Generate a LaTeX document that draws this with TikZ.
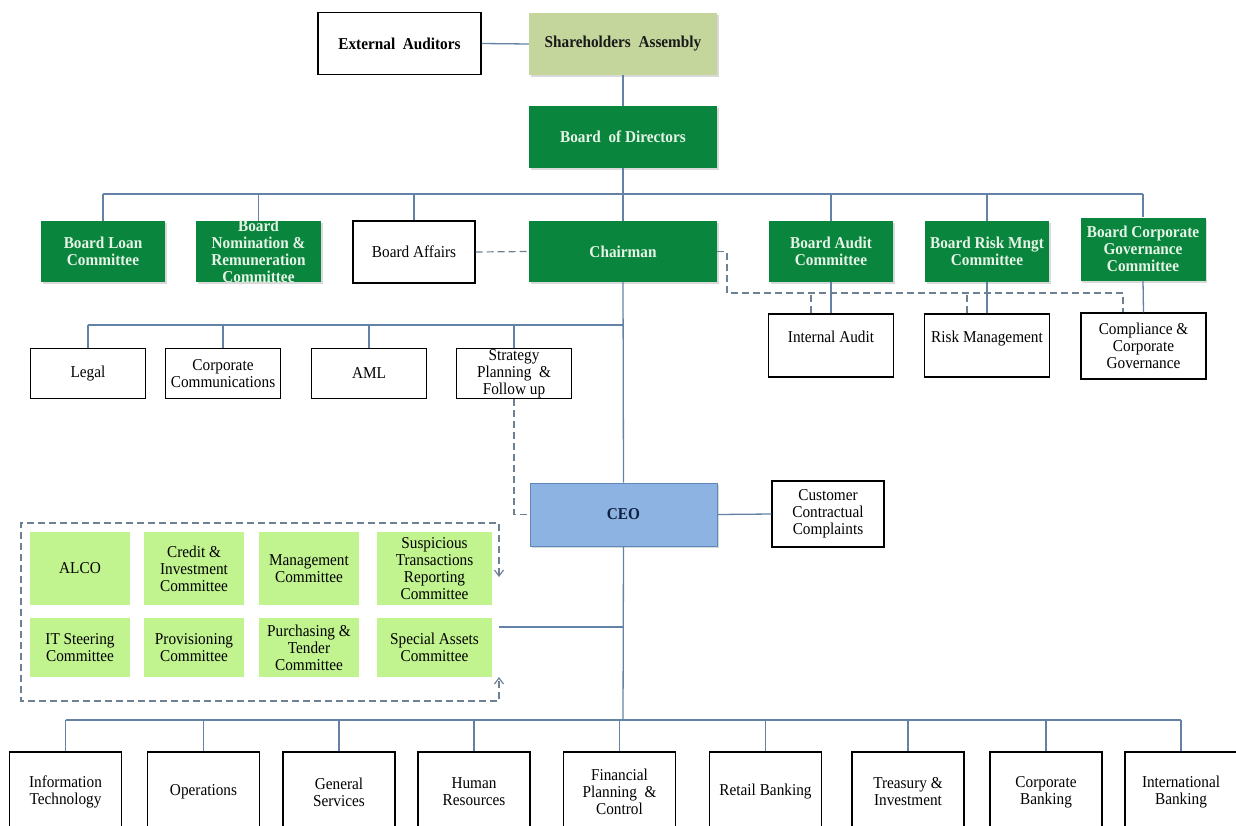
\documentclass[tikz,border=0pt]{standalone}
\usepackage{fontspec}
\setmainfont[FakeStretch=0.92]{Liberation Serif}
\usetikzlibrary{arrows.meta,shadows}

\definecolor{boardgreen}{RGB}{10,133,62}
\definecolor{boardtext}{RGB}{230,244,230}
\definecolor{sharefill}{RGB}{196,214,155}
\definecolor{cmtefill}{RGB}{193,243,143}
\definecolor{ceofill}{RGB}{141,179,226}
\definecolor{ceoline}{RGB}{95,135,185}
\definecolor{ceotext}{RGB}{16,32,64}
\definecolor{linkcol}{RGB}{100,130,165}
\definecolor{dashcol}{RGB}{110,128,148}

\newcommand\orgfont{\fontsize{16.6}{17}\selectfont}

\begin{document}
\begin{tikzpicture}[x=1pt, y=-1pt, >={Straight Barb[length=6pt,width=9pt]}]
\tikzset{
  unit/.style={
    rectangle,
    draw=black,
    line width=1.3pt,
    fill=white,
    align=center,
    inner sep=1pt,
    font=\orgfont
  },
  board/.style={
    rectangle,
    fill=boardgreen,
    text=boardtext,
    align=center,
    inner sep=1pt,
    font=\orgfont\bfseries,
    drop shadow={opacity=.3, shadow xshift=1.5pt, shadow yshift=-2pt}
  },
  cmte/.style={
    rectangle,
    fill=cmtefill,
    align=center,
    inner sep=1pt,
    font=\orgfont
  },
  conn/.style={draw=linkcol, line width=1.3pt},
  dashconn/.style={draw=dashcol, line width=1.2pt, dash pattern=on 7pt off 4pt}
}

\useasboundingbox (0,0) rectangle (1236,825);
\clip (0,0) rectangle (1236,825);

% top of the chart
\node [unit, font=\orgfont\bfseries, minimum width=163pt, minimum height=62pt] (extaud) at (399.5,43.5) {External~ Auditors};
\node [board, fill=sharefill, text=black!90, minimum width=188pt, minimum height=62pt] (share) at (623,44) {Shareholders~ Assembly};
\node [board, minimum width=188pt, minimum height=62pt] (bod) at (623,137) {Board~ of Directors};

% board row
\foreach \n/\x/\txt in {loan/103/{Board Loan\\Committee},
                        audit/831/{Board Audit\\Committee},
                        risk/987/{Board Risk Mngt\\Committee}}
  \node [board, minimum width=124pt, minimum height=61pt] (\n) at (\x,251.5) {\txt};
\node [board, minimum width=125pt, minimum height=61pt] (nomin) at (258.5,251.5) {};
\node [align=center, inner sep=0pt, text=boardtext, font=\orgfont\bfseries] (nomin-txt) at (nomin.center) {Board\\Nomination \&\\Remuneration\\Committee};
\node [board, minimum width=125pt, minimum height=63pt] (cgov) at (1143,249) {Board Corporate\\Governance\\Committee};
\node [unit, minimum width=122pt, minimum height=62pt] (affairs) at (414,252) {Board Affairs};
\node [board, minimum width=188pt, minimum height=61pt] (chair) at (623,251.5) {Chairman};

% units under the board committees
\node [unit, minimum width=125pt, minimum height=63pt] (ia) at (831,345.5) {Internal Audit\\~};
\node [unit, minimum width=125pt, minimum height=63pt] (rm) at (987,345.5) {Risk Management\\~};
\node [unit, minimum width=125pt, minimum height=66pt] (cmpl) at (1143.5,346) {Compliance \&\\Corporate\\Governance};

% units under the chairman
\foreach \n/\x/\txt in {legal/88/Legal,
                        comms/223/{Corporate\\Communications},
                        aml/369/AML,
                        strat/514/{Strategy\\Planning~ \&\\Follow up}}
  \node [unit, minimum width=115pt, minimum height=50pt] (\n) at (\x,373.5) {\txt};

% CEO
\node [board, fill=ceofill, draw=ceoline, line width=1pt, text=ceotext, minimum width=187pt, minimum height=63pt] (ceo) at (623.5,514.5) {CEO};
\node [unit, minimum width=112pt, minimum height=66pt] (ccc) at (828,514) {Customer\\Contractual\\Complaints};

% management committees
\foreach \x/\w/\txt [count=\i] in {80/100/ALCO,
                                    194/100/{Credit \&\\Investment\\Committee},
                                    309/100/{Management\\Committee},
                                    434.5/115/{Suspicious\\Transactions\\Reporting\\Committee}}
  \node [cmte, minimum width=\w pt, minimum height=73pt] (cmte-\i) at (\x,568.5) {\txt};
\foreach \x/\w/\txt [count=\i from 5] in {80/100/{IT Steering\\Committee},
                                          194/100/{Provisioning\\Committee},
                                          309/100/{Purchasing \&\\Tender\\Committee},
                                          434.5/115/{Special Assets\\Committee}}
  \node [cmte, minimum width=\w pt, minimum height=59pt] (cmte-\i) at (\x,647.5) {\txt};

% departments
\foreach \x/\txt [count=\i] in {65.5/{Information\\Technology},
                                203.5/Operations,
                                339/{General\\Services},
                                474/{Human\\Resources},
                                619.5/{Financial\\Planning~ \&\\Control},
                                765.5/Retail Banking,
                                908/{Treasury \&\\Investment},
                                1046/{Corporate\\Banking},
                                1181/{International\\Banking}}
  \node [unit, minimum width=112pt, minimum height=80pt] (dept-\i) at (\x,792) {\txt};

\coordinate (busone) at (623,194);
\coordinate (busthree) at (623,325);
\coordinate (busfour) at (623,720);
\coordinate (audit-bus) at (727,293);
\coordinate (frame-nw) at (21,523);
\coordinate (frame-se) at (499,701);
\coordinate (frame-r) at (499,627);

% main line
\draw [conn] (extaud.east) -- (share.west);
\draw [conn] (share.south) -- (bod.north);
\draw [conn] (bod.south) -- (chair.north);
\draw [conn] (chair.south) -- (ceo.north);
\draw [conn] (ceo.south) -- (busfour);
\draw [conn] (ceo.east) -- (ccc.west);

\draw [conn] (loan.north |- busone) -- (cgov.north |- busone);
\foreach \n in {loan,nomin,affairs,audit,risk,cgov}
  \draw [conn] (\n.north |- busone) -- (\n.north);

\draw [conn] (audit.south) -- (ia.north);
\draw [conn] (risk.south) -- (rm.north);
\draw [conn] (cgov.south) -- (cmpl.north);

\draw [conn] (legal.north |- busthree) -- (busthree);
\foreach \n in {legal,comms,aml,strat}
  \draw [conn] (\n.north |- busthree) -- (\n.north);

\draw [conn] (dept-1.north |- busfour) -- (dept-9.north |- busfour);
\foreach \i in {1,...,9}
  \draw [conn] (dept-\i.north |- busfour) -- (dept-\i.north);

\draw [conn] (frame-r) -- (frame-r -| ceo.south);

% dashed links
\draw [dashconn] (affairs.east) -- (chair.west);
\draw [dashconn] (chair.east) -| (audit-bus) -| ([xshift=-20.5pt]cmpl.north);
\draw [dashconn] ([xshift=-20pt]ia.north) -- ([xshift=-20pt]ia.north |- audit-bus);
\draw [dashconn] ([xshift=-20pt]rm.north) -- ([xshift=-20pt]rm.north |- audit-bus);
\draw [dashconn] (strat.south) |- (ceo.west);
\draw [dashconn, <->] ([yshift=50pt]frame-r) |- (frame-nw) |- (frame-se) -- ([yshift=-50pt]frame-r);
\end{tikzpicture}
\end{document}
